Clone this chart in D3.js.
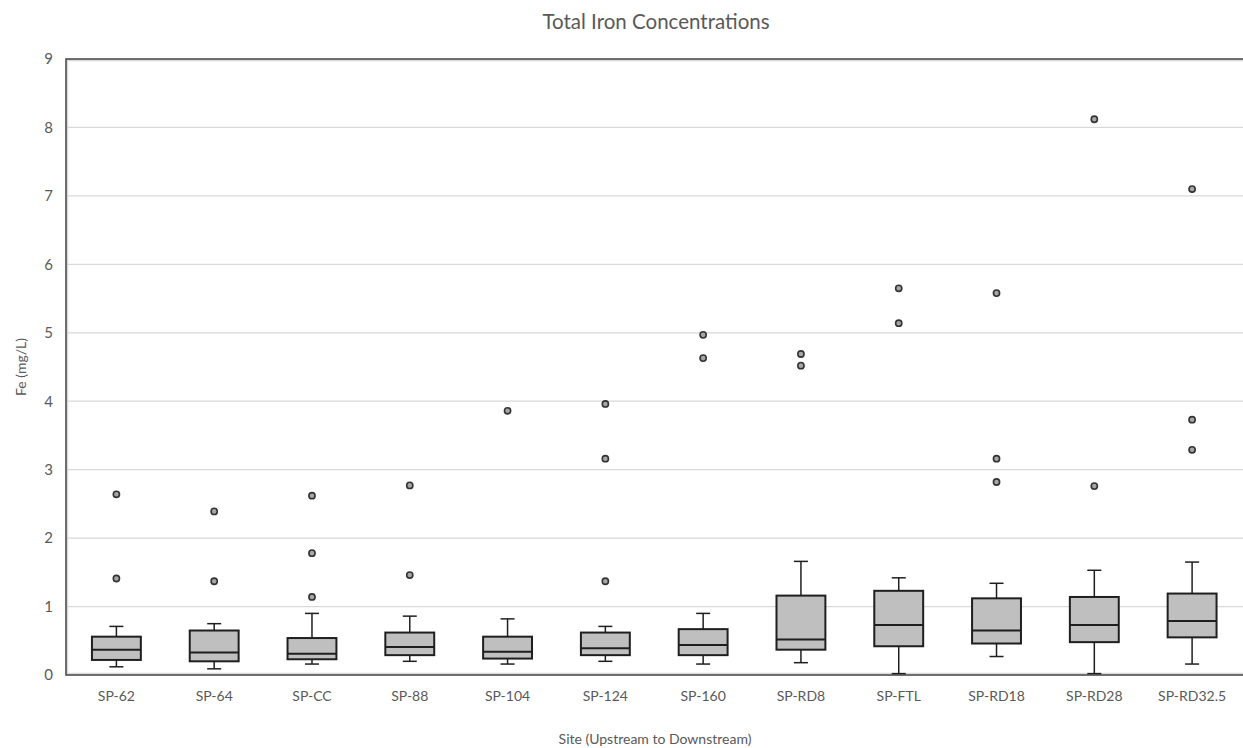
<!DOCTYPE html>
<html>
<head>
<meta charset="utf-8">
<script src="https://cdn.jsdelivr.net/npm/d3@7"></script>
<style>
  body { margin: 0; background: #fff; }
  text { font-family: Lato, "Open Sans", sans-serif; fill: #595959; }
</style>
</head>
<body>
<svg id="chart" width="1243" height="748"></svg>
<script>
const categories = ["SP-62","SP-64","SP-CC","SP-88","SP-104","SP-124","SP-160","SP-RD8","SP-FTL","SP-RD18","SP-RD28","SP-RD32.5"];
const whiskerLow  = [0.12, 0.09, 0.16, 0.20, 0.16, 0.20, 0.16, 0.18, 0.02, 0.27, 0.02, 0.16];
const q1          = [0.22, 0.20, 0.23, 0.29, 0.24, 0.29, 0.29, 0.37, 0.42, 0.46, 0.48, 0.55];
const medians     = [0.37, 0.33, 0.31, 0.41, 0.34, 0.39, 0.44, 0.52, 0.73, 0.65, 0.73, 0.79];
const q3          = [0.56, 0.65, 0.54, 0.62, 0.56, 0.62, 0.67, 1.16, 1.23, 1.12, 1.14, 1.19];
const whiskerHigh = [0.71, 0.75, 0.90, 0.86, 0.82, 0.71, 0.90, 1.66, 1.42, 1.34, 1.53, 1.65];
const outliers = [
  [2.64, 1.41],
  [2.39, 1.37],
  [2.62, 1.78, 1.14],
  [2.77, 1.46],
  [3.86],
  [3.96, 3.16, 1.37],
  [4.97, 4.63],
  [4.69, 4.52],
  [5.65, 5.14],
  [5.58, 3.16, 2.82],
  [8.12, 2.76],
  [7.10, 3.73, 3.29]
];
const yTicks = [0,1,2,3,4,5,6,7,8,9];

const svg = d3.select("#chart");
const plot = {left: 66, top: 59, right: 1241, bottom: 675};

const x = d3.scaleBand().domain(categories).range([plot.left + 1.5, plot.right]).paddingInner(0).paddingOuter(0);
const y = d3.scaleLinear().domain([0, 9]).range([plot.bottom, plot.top]);

// gridlines
svg.append("g").selectAll("line").data(yTicks.filter(t => t > 0 && t < 9)).join("line")
  .attr("x1", plot.left).attr("x2", 1243)
  .attr("y1", d => y(d)).attr("y2", d => y(d))
  .attr("stroke", "#d9d9d9").attr("stroke-width", 1.2);

// plot border (dark with light inner shadow)
svg.append("rect")
  .attr("x", plot.left + 1.5).attr("y", plot.top + 1.5)
  .attr("width", 1300).attr("height", plot.bottom - plot.top - 3)
  .attr("fill", "none").attr("stroke", "#d9d9d9").attr("stroke-width", 1.5);
svg.append("rect")
  .attr("x", plot.left).attr("y", plot.top)
  .attr("width", 1300).attr("height", plot.bottom - plot.top)
  .attr("fill", "none").attr("stroke", "#404040").attr("stroke-width", 1.5);

// y axis labels
const yAxis = d3.axisLeft(y).tickValues(yTicks).tickSize(0).tickPadding(0).tickFormat(d3.format("d"));
const gy = svg.append("g").attr("transform", `translate(${plot.left - 13},0)`).call(yAxis);
gy.select(".domain").remove();
gy.selectAll("text").attr("font-size", 15).style("font-family", "Lato, 'Open Sans', sans-serif").attr("fill", "#595959");

// x axis labels
const xAxis = d3.axisBottom(x).tickSize(0).tickPadding(0);
const gx = svg.append("g").attr("transform", `translate(0,${plot.bottom + 16})`).call(xAxis);
gx.select(".domain").remove();
gx.selectAll("text").attr("font-size", 14).style("font-family", "Lato, 'Open Sans', sans-serif").attr("fill", "#595959");

const boxW = x.bandwidth() * 0.5;
const capW = 14;
const stroke = "#1f1f1f";

const data = categories.map((c, i) => ({c, lo: whiskerLow[i], q1: q1[i], med: medians[i], q3: q3[i], hi: whiskerHigh[i], out: outliers[i]}));
const g = svg.append("g").selectAll("g").data(data).join("g")
  .attr("transform", d => `translate(${x(d.c) + x.bandwidth() / 2},0)`);

// whiskers
g.append("line").attr("x1", 0).attr("x2", 0).attr("y1", d => y(d.q3)).attr("y2", d => y(d.hi)).attr("stroke", stroke).attr("stroke-width", 1.5);
g.append("line").attr("x1", 0).attr("x2", 0).attr("y1", d => y(d.q1)).attr("y2", d => y(d.lo)).attr("stroke", stroke).attr("stroke-width", 1.5);
g.append("line").attr("x1", -capW/2).attr("x2", capW/2).attr("y1", d => y(d.hi)).attr("y2", d => y(d.hi)).attr("stroke", stroke).attr("stroke-width", 1.5);
g.append("line").attr("x1", -capW/2).attr("x2", capW/2).attr("y1", d => y(d.lo)).attr("y2", d => y(d.lo)).attr("stroke", stroke).attr("stroke-width", 1.5);
// boxes
g.append("rect").attr("x", -boxW/2).attr("width", boxW)
  .attr("y", d => y(d.q3)).attr("height", d => y(d.q1) - y(d.q3))
  .attr("fill", "#bfbfbf").attr("stroke", stroke).attr("stroke-width", 2);
g.append("line").attr("x1", -boxW/2).attr("x2", boxW/2).attr("y1", d => y(d.med)).attr("y2", d => y(d.med)).attr("stroke", stroke).attr("stroke-width", 2);
// outliers
g.selectAll("circle").data(d => d.out).join("circle")
  .attr("cx", 0).attr("cy", v => y(v)).attr("r", 3.1)
  .attr("fill", "#a6a6a6").attr("stroke", "#333").attr("stroke-width", 1.6);

// titles
svg.append("text").attr("x", 656).attr("y", 29).attr("text-anchor", "middle").attr("font-size", 20.5).text("Total Iron Concentrations");
svg.append("text").attr("x", 655).attr("y", 744).attr("text-anchor", "middle").attr("font-size", 14).text("Site (Upstream to Downstream)");
svg.append("text").attr("transform", "translate(26,367) rotate(-90)").attr("text-anchor", "middle").attr("font-size", 14).text("Fe (mg/L)");
</script>
</body>
</html>
